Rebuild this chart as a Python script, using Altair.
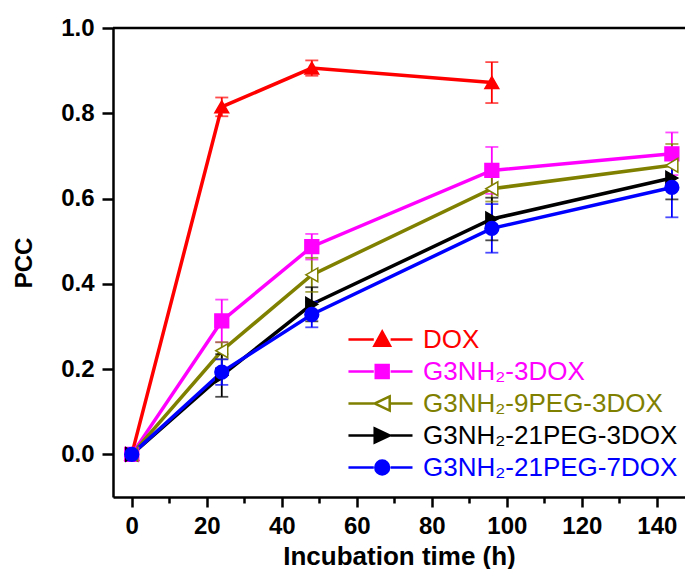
import altair as alt
import pandas as pd

times = [0, 24, 48, 96, 144]
names = ["DOX", "G3NH₂-3DOX", "G3NH₂-9PEG-3DOX", "G3NH₂-21PEG-3DOX", "G3NH₂-21PEG-7DOX"]
colors = ["#ff0000", "#ff00ff", "#808000", "#000000", "#0000ff"]
fills = ["#ff0000", "#ff00ff", "#ffffff", "#000000", "#0000ff"]

dox_v = [0.0, 0.815, 0.906, 0.872]
dox_e = [0.0, 0.022, 0.018, 0.048]
g3_v = [0.0, 0.313, 0.487, 0.666, 0.705]
g3_e = [0.0, 0.050, 0.030, 0.055, 0.050]
peg9_v = [0.0, 0.243, 0.421, 0.623, 0.678]
peg9_e = [0.0, 0.020, 0.040, 0.030, 0.050]
peg21a_v = [0.0, 0.185, 0.352, 0.552, 0.648]
peg21a_e = [0.0, 0.050, 0.040, 0.050, 0.050]
peg21b_v = [0.0, 0.193, 0.328, 0.530, 0.626]
peg21b_e = [0.0, 0.030, 0.030, 0.057, 0.070]

values = [dox_v, g3_v, peg9_v, peg21a_v, peg21b_v]
errors = [dox_e, g3_e, peg9_e, peg21a_e, peg21b_e]

rows = []
for i, (nm, vs, es) in enumerate(zip(names, values, errors)):
    for t, v, e in zip(times, vs, es):
        rows.append({"series": nm, "t": t, "v": v, "err": e, "order": i})
df = pd.DataFrame(rows)

marker_shapes = ["triangle-up", "square", "triangle-left", "triangle-right", "circle"]
legend_paths = [
    "M-1.07,0H0.62M1.74,0H3.2M0.66,0.42L1.18,-0.52L1.70,0.42Z",
    "M-1.07,0H0.62M1.74,0H3.2M0.75,-0.43H1.61V0.43H0.75Z",
    "M-1.07,0H0.62M1.74,0H3.2M1.68,-0.47L0.68,0L1.68,0.47Z",
    "M-1.07,0H0.62M1.74,0H3.2M0.68,-0.47L1.68,0L0.68,0.47Z",
    "M-1.07,0H0.62M1.74,0H3.2M0.72,0A0.46,0.46,0,1,1,1.64,0A0.46,0.46,0,1,1,0.72,0Z",
]

FONT = "Liberation Sans"

xscale = alt.Scale(domain=[-5, 147.5], nice=False, zero=False)
yscale = alt.Scale(domain=[-0.1, 1.0], nice=False, zero=False)
stroke_scale = alt.Scale(domain=names, range=colors)
fill_scale = alt.Scale(domain=names, range=fills)

x_axis = alt.Axis(
    title="Incubation time (h)",
    values=list(range(0, 150, 10)),
    labelExpr="datum.value % 20 == 0 ? datum.label : ''",
    tickSize={"condition": {"test": "datum.value % 20 == 0", "value": 10}, "value": 6},
    labelPadding=7,
    titlePadding=5,
    grid=False,
)
y_axis = alt.Axis(
    title="PCC",
    values=[0.0, 0.2, 0.4, 0.6, 0.8, 1.0],
    format=".1f",
    tickSize=11,
    labelPadding=8,
    titlePadding=24,
    grid=False,
)

X = alt.X("t:Q", scale=xscale, axis=x_axis)
Y = alt.Y("v:Q", scale=yscale, axis=y_axis)
S = alt.Stroke("series:N", scale=stroke_scale, legend=None)

base = alt.Chart(df)

lines = base.mark_line(strokeWidth=3.5).encode(
    x=X, y=Y, stroke=S, order="t:Q"
)

err_base = base.transform_filter("datum.err > 0").transform_calculate(
    lo="datum.v - datum.err", hi="datum.v + datum.err"
)
err_rule = err_base.mark_rule(strokeWidth=1.8).encode(
    x="t:Q", y="lo:Q", y2="hi:Q", stroke=S
)
cap_lo = err_base.mark_tick(size=13, thickness=1.8, orient="horizontal").encode(
    x="t:Q", y="lo:Q", color=alt.Color("series:N", scale=stroke_scale, legend=None)
)
cap_hi = err_base.mark_tick(size=13, thickness=1.8, orient="horizontal").encode(
    x="t:Q", y="hi:Q", color=alt.Color("series:N", scale=stroke_scale, legend=None)
)

points = base.mark_point(filled=True, size=190, strokeWidth=1.5, opacity=1).encode(
    x="t:Q",
    y="v:Q",
    shape=alt.Shape("series:N", scale=alt.Scale(domain=names, range=marker_shapes), legend=None),
    stroke=S,
    fill=alt.Fill("series:N", scale=fill_scale, legend=None),
)

top_rule = alt.Chart(pd.DataFrame({"y": [1.0]})).mark_rule(
    color="black", strokeWidth=2.5
).encode(y="y:Q")

label_color_expr = (
    "[" + ",".join("'%s'" % c for c in colors) + "][indexof(["
    + ",".join("'%s'" % n for n in names) + "], datum.value)]"
)

leg = dict(
    orient="none",
    legendX=235,
    legendY=295,
    title=None,
    padding=0,
    rowPadding=2,
    labelFont=FONT,
    labelFontSize=26,
    labelFontWeight="normal",
    labelOffset=42,
    labelLimit=500,
    symbolSize=900,
    symbolStrokeWidth=2.5,
    labelColor=alt.ExprRef(label_color_expr),
)

legend_layer = base.transform_filter("false").mark_point(
    filled=True, size=900, strokeWidth=2.5, opacity=1
).encode(
    shape=alt.Shape("series:N", scale=alt.Scale(domain=names, range=legend_paths), legend=alt.Legend(**leg)),
    stroke=alt.Stroke("series:N", scale=stroke_scale, legend=alt.Legend(**leg)),
    fill=alt.Fill("series:N", scale=fill_scale, legend=alt.Legend(**leg)),
)

chart = alt.layer(
    lines, err_rule, cap_lo, cap_hi, points, top_rule, legend_layer
).resolve_scale(
    shape="independent", stroke="independent", fill="independent", color="independent"
).properties(
    width=572,
    height=469,
    padding={"left": 105, "top": 20, "right": 0, "bottom": 72},
    autosize="none",
).configure_view(
    stroke="#999999", strokeWidth=1
).configure_axis(
    domainColor="black",
    domainWidth=2.5,
    tickColor="black",
    tickWidth=2.5,
    labelFont=FONT,
    labelFontSize=24,
    labelFontWeight="bold",
    labelColor="black",
    titleFont=FONT,
    titleFontWeight="bold",
    titleColor="black",
).configure_axisX(
    titleFontSize=26
).configure_axisY(
    titleFontSize=24
)

chart.save("out.html", embed_options={"renderer": "svg", "actions": False})
